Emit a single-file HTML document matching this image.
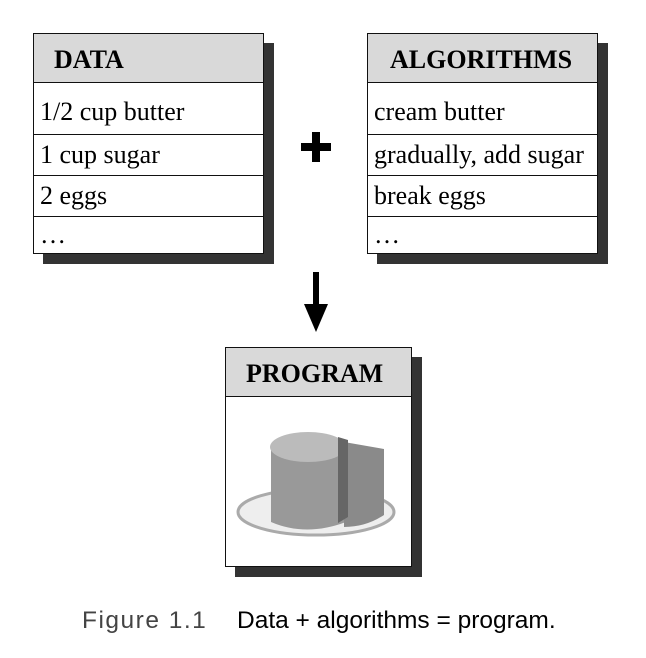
<!DOCTYPE html>
<html><head><style>
body{margin:0;width:646px;height:658px;background:#fff;position:relative;font-family:"Liberation Serif",serif;overflow:hidden}
.box{position:absolute;border:1.5px solid #111;background:#fff;box-sizing:border-box;box-shadow:10px 10px 0 #333}
.hd{background:#d9d9d9;border-bottom:1.5px solid #111;font-weight:bold;font-size:26px;box-sizing:border-box;line-height:1}
.row{border-bottom:1.5px solid #111;font-size:26px;padding-left:6px;box-sizing:border-box;display:flex;align-items:center;white-space:nowrap}
.row:last-child{border-bottom:none}
.t{position:absolute;font-family:"Liberation Sans",sans-serif;font-size:24.5px;top:607px;white-space:nowrap}
</style></head><body>
<div class="box" style="left:33px;top:33px;width:231px;height:221px">
 <div class="hd" style="height:49px;padding:13px 0 0 20px">DATA</div>
 <div class="row" style="height:52px;padding-top:6px">1/2 cup butter</div>
 <div class="row" style="height:41px">1 cup sugar</div>
 <div class="row" style="height:41px">2 eggs</div>
 <div class="row" style="height:36px">…</div>
</div>
<div class="box" style="left:367px;top:33px;width:231px;height:221px">
 <div class="hd" style="height:49px;padding:13px 0 0 22px">ALGORITHMS</div>
 <div class="row" style="height:52px;padding-top:6px">cream butter</div>
 <div class="row" style="height:41px">gradually, add sugar</div>
 <div class="row" style="height:41px">break eggs</div>
 <div class="row" style="height:36px">…</div>
</div>
<svg style="position:absolute;left:0;top:0" width="646" height="658">
 <rect x="301" y="143" width="30" height="8" fill="#000"/>
 <rect x="312" y="132" width="8" height="30" fill="#000"/>
 <rect x="313" y="272" width="6" height="36" fill="#000"/>
 <polygon points="304,304 328,304 316,332" fill="#000"/>
</svg>
<div class="box" style="left:225px;top:347px;width:187px;height:220px">
 <div class="hd" style="height:49px;padding:13px 0 0 20px">PROGRAM</div>
 <svg width="184" height="168" style="display:block">
  <ellipse cx="90" cy="115" rx="78" ry="23" fill="#eee" stroke="#aaa" stroke-width="3"/>
  <path d="M45 50 L45 125 Q80 140 120 125 L120 50 Z" fill="#999"/>
  <ellipse cx="82" cy="50" rx="38" ry="15" fill="#bbb"/>
  <path d="M118 45 L158 52 L158 118 Q140 130 118 130 Z" fill="#8a8a8a"/>
  <path d="M112 40 L122 43 L122 120 L112 126Z" fill="#666"/>
 </svg>
</div>
<div class="t" style="left:82px;color:#444;letter-spacing:1.5px">Figure 1.1</div>
<div class="t" style="left:237px;color:#000">Data + algorithms = program.</div>
</body></html>
